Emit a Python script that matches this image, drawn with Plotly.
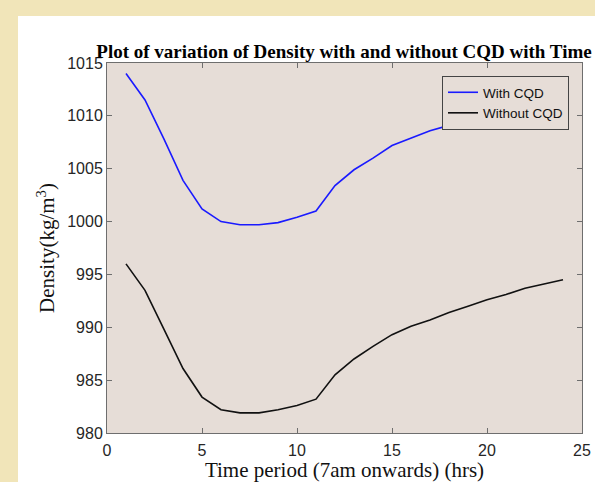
import plotly.graph_objects as go

time_hrs = list(range(1, 25))
with_cqd = [1014.0, 1011.5, 1007.8, 1003.9, 1001.2, 1000.0, 999.7, 999.7, 999.9, 1000.4,
            1001.0, 1003.4, 1004.9, 1006.0, 1007.2, 1007.9, 1008.6, 1009.1, 1009.7, 1010.3,
            1010.8, 1011.4, 1011.9, 1012.3]
without_cqd = [996.0, 993.5, 989.8, 986.1, 983.4, 982.2, 981.9, 981.9, 982.2, 982.6,
               983.2, 985.5, 987.0, 988.2, 989.3, 990.1, 990.7, 991.4, 992.0, 992.6,
               993.1, 993.7, 994.1, 994.5]
x_ticks = [0, 5, 10, 15, 20, 25]
y_ticks = [980, 985, 990, 995, 1000, 1005, 1010, 1015]

W, H = 595, 482
L, R, T, B = 107, 13, 63, 49
pw, ph = W - L - R, H - T - B

def px(xp):
    return (xp - L) / pw

def py(yp):
    return (H - B - yp) / ph

fig = go.Figure()
fig.add_trace(go.Scatter(x=time_hrs, y=with_cqd, mode="lines", name="With CQD",
                         line=dict(color="#1a1aff", width=1.6)))
fig.add_trace(go.Scatter(x=time_hrs, y=without_cqd, mode="lines", name="Without CQD",
                         line=dict(color="#111111", width=1.6)))

axis_common = dict(showgrid=False, zeroline=False, showline=True, linecolor="#6e6e6e",
                   linewidth=1, mirror="ticks", ticks="inside", ticklen=5, tickwidth=1,
                   tickcolor="#6e6e6e", automargin=False,
                   tickfont=dict(family="Liberation Sans, Arial", size=16, color="#262626"))

fig.update_xaxes(range=[0, 25], tickvals=x_ticks, **axis_common, ticklabelstandoff=3,
                 title=dict(text="Time period (7am onwards) (hrs)",
                            font=dict(family="Liberation Serif, Times New Roman", size=21, color="#111"),
                            standoff=13))
fig.update_yaxes(range=[980, 1015], tickvals=y_ticks, **axis_common,
                 title=dict(text="Density(kg/m<sup>3</sup>)",
                            font=dict(family="Liberation Serif, Times New Roman", size=21, color="#111"),
                            standoff=6))

fig.update_layout(
    width=W, height=H,
    margin=dict(l=L, r=R, t=T, b=B, autoexpand=False),
    paper_bgcolor="white",
    plot_bgcolor="#e6ddd7",
    title=dict(text="<b>Plot of variation of Density with and without CQD with Time</b>",
               font=dict(family="Liberation Serif, Times New Roman", size=19, color="#000"),
               x=px(344), xanchor="center", y=1 - 51 / H, yanchor="middle", xref="paper",
               automargin=False),
    legend=dict(x=px(569), y=py(76), xanchor="right", yanchor="top",
                bgcolor="#e6ddd7", bordercolor="#444", borderwidth=1,
                font=dict(family="Liberation Sans, Arial", size=13.5, color="#111"),
                tracegroupgap=0, itemwidth=30),
    showlegend=True,
    shapes=[
        dict(type="rect", xref="paper", yref="paper", x0=px(-5), x1=px(18), y0=py(H + 5), y1=py(-5),
             fillcolor="#f1e5b9", line=dict(width=0), layer="above"),
        dict(type="rect", xref="paper", yref="paper", x0=px(-5), x1=px(W + 5), y0=py(16), y1=py(-5),
             fillcolor="#f1e5b9", line=dict(width=0), layer="above"),
    ],
)

fig.write_html("out.html", config={"displayModeBar": False},
               post_script="document.documentElement.style.margin='0';"
                           "document.documentElement.style.overflow='hidden';"
                           "document.body.style.margin='0';document.body.style.padding='0';"
                           "document.body.style.overflow='hidden';")
